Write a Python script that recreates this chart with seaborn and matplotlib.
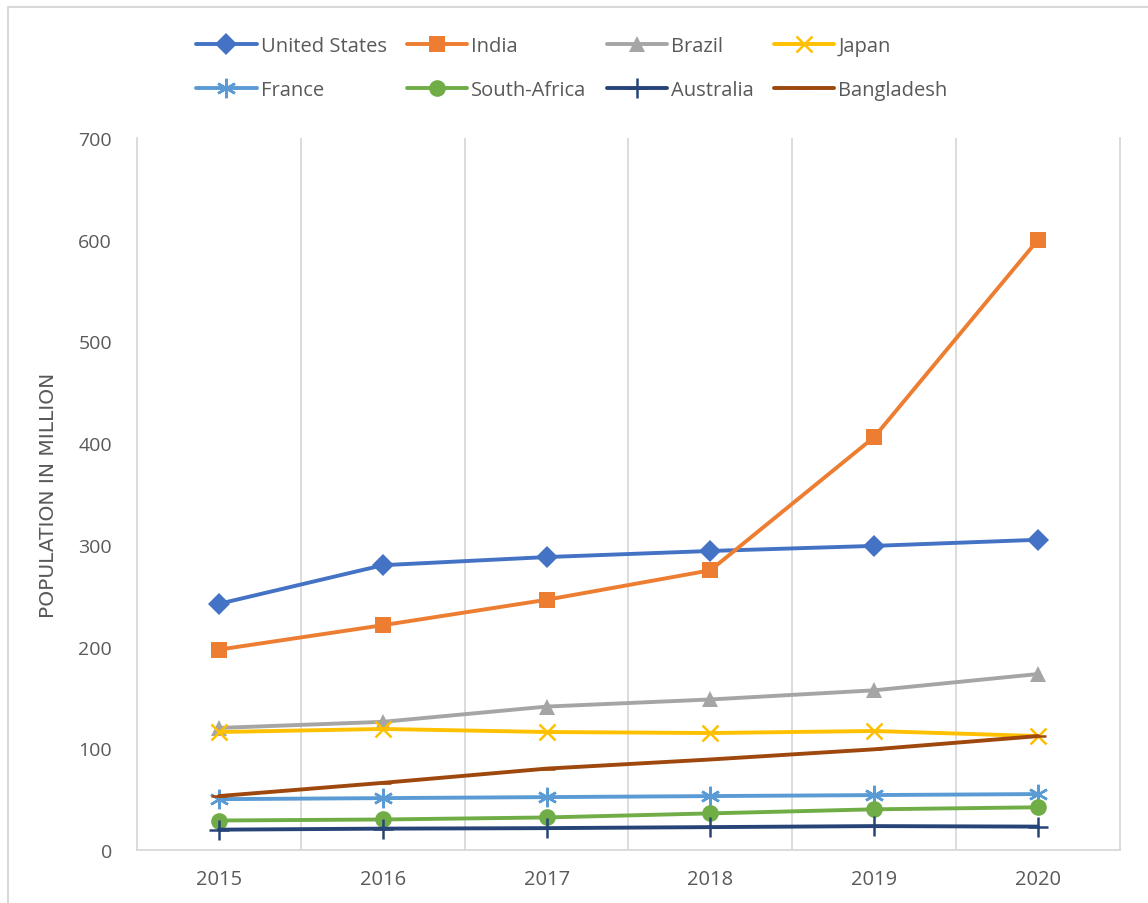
import matplotlib
matplotlib.use("Agg")
import matplotlib.pyplot as plt
import seaborn as sns
import pandas as pd
from matplotlib.patches import Rectangle

years = ["2015", "2016", "2017", "2018", "2019", "2020"]
united_states = [242, 280, 288, 294, 299, 305]
india = [197, 221, 246, 275, 406, 600]
brazil = [120, 126, 141, 148, 157, 173]
japan = [116, 119, 116, 115, 117, 112]
france = [50, 51, 52, 53, 54, 55]
south_africa = [29, 30, 32, 36, 40, 42]
australia = [20, 21, 21.5, 22.5, 23.5, 23]
bangladesh = [53, 66, 80, 89, 99, 112]
yticks = [0, 100, 200, 300, 400, 500, 600, 700]

series = [
    ("United States", united_states, "#4472C4", "D", 11),
    ("India", india, "#ED7D31", "s", 11),
    ("Brazil", brazil, "#A5A5A5", "^", 12),
    ("Japan", japan, "#FFC000", "x", 12),
    ("France", france, "#5B9BD5", (6, 2, 0), 14),
    ("South-Africa", south_africa, "#70AD47", "o", 12),
    ("Australia", australia, "#264478", "+", 14),
    ("Bangladesh", bangladesh, "#9E480E", "_", 12),
]

sns.set_theme(style="white")
plt.rcParams['font.family'] = ['Open Sans', 'DejaVu Sans']

fig = plt.figure(figsize=(11.48, 9.04), dpi=100)
fig.patch.set_facecolor("white")
# outer chart frame
fig.patches.append(Rectangle((8/1148, -0.1), 1.2, 1 - 8/904 + 0.1, transform=fig.transFigure,
                             fill=False, edgecolor="#D9D9D9", linewidth=1.5))

ax = fig.add_axes([137/1148, 1 - 851/904, (1120 - 137)/1148, (851 - 139)/904])

handles = {}
for name, vals, color, marker, ms in series:
    df = pd.DataFrame({"x": list(range(len(years))), "y": vals})
    line_art = marker in ("x", "+", "_") or isinstance(marker, tuple)
    sns.lineplot(data=df, x="x", y="y", ax=ax, color=color, linewidth=2.8,
                 marker=marker, markersize=ms, markeredgewidth=1.8 if line_art else 0,
                 markeredgecolor=color, markerfacecolor=color, label=name)
    handles[name] = ax.get_lines()[-1]

ax.set_xlim(-0.5, len(years) - 0.5)
ax.set_ylim(0, 700)
ax.set_yticks(yticks)
ax.set_yticklabels([str(t) for t in yticks])
ax.set_xticks(range(len(years)))
ax.set_xticklabels(years)
ax.tick_params(axis="both", length=0, colors="#595959")
ax.tick_params(axis="y", labelsize=14, pad=18)
ax.tick_params(axis="x", labelsize=14.5, pad=14)

# vertical gridlines at category boundaries
for b in [i + 0.5 for i in range(len(years) - 1)]:
    ax.axvline(b, color="#D9D9D9", linewidth=1.3, zorder=0)

for side in ["left", "bottom", "right"]:
    ax.spines[side].set_color("#D9D9D9")
    ax.spines[side].set_linewidth(1.3)
ax.spines["top"].set_visible(False)

ax.set_xlabel("")
ax.set_ylabel("POPULATION IN MILLION", fontsize=14.5, color="#595959",
              family=['Liberation Sans Narrow', 'DejaVu Sans'])
ax.yaxis.set_label_coords(-0.080, 0.5)

ax.get_legend().remove()
order = ["United States", "France", "India", "South-Africa", "Brazil", "Australia", "Japan", "Bangladesh"]
fig.legend([handles[n] for n in order], order, ncol=4, loc="center",
           bbox_to_anchor=(572/1148, 1 - 69/904), frameon=False, fontsize=14.5,
           handlelength=3.0, handletextpad=0.2, columnspacing=1.0, labelspacing=1.15,
           labelcolor="#595959")

fig.savefig("out.png", dpi=100)
